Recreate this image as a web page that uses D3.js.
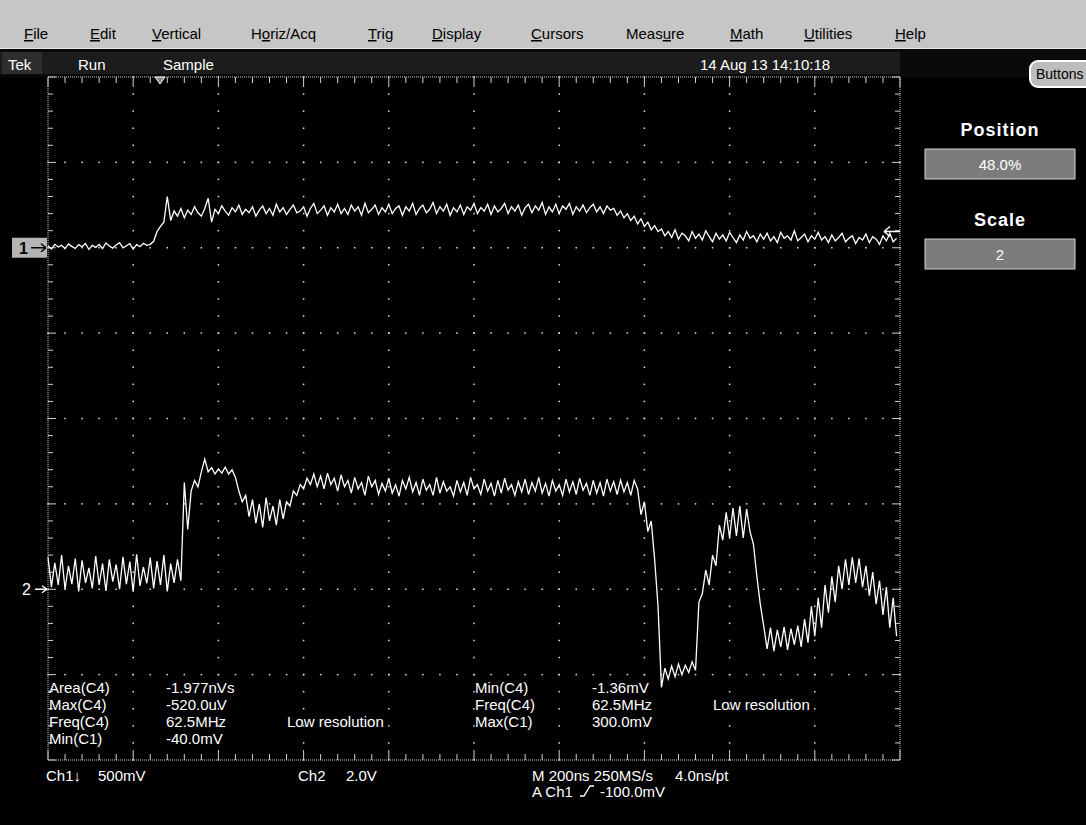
<!DOCTYPE html>
<html>
<head>
<meta charset="utf-8">
<script src="https://cdn.jsdelivr.net/npm/d3@7"></script>
<style>
  html, body { margin: 0; padding: 0; background: #000; }
  svg { display: block; }
  text { font-family: "Liberation Sans", Arial, sans-serif; }
</style>
</head>
<body>
<svg id="scope" width="1086" height="825"></svg>
<script>
// ---- acquisition data: one value every 8 ns across the 2 us record ----
const SAMPLE_NS = 8;

// Channel 1, millivolts
const ch1mV = [
  12, -8, 20, 4, 15, -6, 22, 8, -4, 18,
  6, 25, -10, 14, 2, 19, -5, 28, 10, -2,
  16, 30, 0, 12, 24, -8, 18, 6, 26, 14,
  20, 38, 95, 125, 150, 300, 160, 215, 185, 230,
  175, 220, 195, 240, 205, 185, 230, 290, 150, 225,
  200, 245, 215, 190, 235, 210, 250, 195, 225, 205,
  240, 185, 220, 245, 200, 230, 190, 255, 210, 235,
  195, 225, 250, 205, 215, 240, 185, 230, 260, 200,
  220, 245, 190, 235, 210, 255, 200, 230, 195, 250,
  215, 240, 190, 260, 205, 225, 250, 195, 235, 210,
  255, 200, 230, 245, 190, 240, 215, 260, 195, 230,
  250, 205, 225, 265, 200, 240, 215, 255, 190, 235,
  210, 250, 195, 240, 220, 260, 200, 235, 215, 255,
  195, 245, 210, 230, 260, 200, 240, 215, 250, 190,
  235, 255, 205, 245, 220, 265, 195, 240, 210, 255,
  200, 245, 225, 260, 195, 240, 215, 250, 205, 235,
  255, 210, 240, 200, 245, 220, 230, 190, 215, 175,
  200, 160, 185, 140, 170, 125, 150, 105, 130, 95,
  110, 70, 95, 60, 105, 50, 85, 70, 40, 95,
  55, 80, 45, 100, 65, 35, 85, 50, 75, 40,
  90, 60, 30, 75, 45, 95, 55, 70, 35, 80,
  50, 85, 40, 65, 30, 90, 55, 70, 45, 100,
  40, 60, 80, 35, 70, 50, 90, 45, 65, 30,
  75, 40, 60, 85, 35, 55, 70, 25, 60, 45,
  80, 30, 65, 50, 20, 70, 40, 85, 35, 55
];

// Channel 2, volts
const ch2V = [
  0.75, 0.05, 0.62, 0.10, 0.80, 0.00, 0.55, 0.12, 0.72, -0.05,
  0.68, 0.15, 0.50, 0.02, 0.78, 0.10, 0.60, -0.04, 0.70, 0.18,
  0.58, 0.00, 0.76, 0.12, 0.65, -0.06, 0.82, 0.08, 0.52, 0.14,
  0.74, 0.02, 0.66, 0.10, 0.80, -0.05, 0.60, 0.15, 0.70, 0.20,
  2.50, 1.40, 2.30, 2.55, 2.40, 2.75, 3.05, 2.75, 2.85, 2.70,
  2.82, 2.72, 2.86, 2.70, 2.80, 2.62, 2.30, 2.05, 2.20, 1.70,
  2.10, 1.55, 2.00, 1.45, 2.15, 1.60, 1.95, 1.50, 2.10, 1.65,
  2.05, 1.95, 2.30, 2.20, 2.45, 2.35, 2.60, 2.45, 2.70, 2.40,
  2.65, 2.35, 2.72, 2.45, 2.60, 2.30, 2.68, 2.40, 2.55, 2.25,
  2.62, 2.35, 2.50, 2.20, 2.65, 2.40, 2.55, 2.22, 2.48, 2.30,
  2.60, 2.25, 2.45, 2.18, 2.55, 2.35, 2.62, 2.28, 2.50, 2.20,
  2.58, 2.32, 2.45, 2.20, 2.62, 2.25, 2.52, 2.30, 2.40, 2.18,
  2.55, 2.28, 2.50, 2.20, 2.62, 2.35, 2.45, 2.22, 2.58, 2.30,
  2.48, 2.18, 2.55, 2.25, 2.60, 2.32, 2.45, 2.20, 2.52, 2.28,
  2.58, 2.22, 2.50, 2.30, 2.62, 2.25, 2.48, 2.18, 2.55, 2.30,
  2.45, 2.20, 2.58, 2.28, 2.52, 2.22, 2.60, 2.32, 2.48, 2.20,
  2.55, 2.25, 2.50, 2.18, 2.58, 2.30, 2.52, 2.22, 2.56, 2.28,
  2.50, 2.20, 2.55, 2.35, 1.75, 2.05, 1.35, 1.60, 0.70, -0.40,
  -2.30, -1.85, -2.10, -1.80, -2.05, -1.75, -2.00, -1.78, -1.95, -1.70,
  -1.90, -0.30, -0.10, 0.45, 0.10, 0.80, 0.55, 1.50, 1.15, 1.80,
  1.20, 1.90, 1.25, 1.95, 1.20, 1.88, 1.35, 1.05, 0.30, -0.35,
  -0.85, -1.40, -0.90, -1.45, -0.95, -1.35, -0.88, -1.42, -0.92, -1.30,
  -0.85, -1.35, -0.70, -1.25, -0.40, -1.10, -0.20, -0.90, 0.10, -0.55,
  0.30, -0.30, 0.55, 0.00, 0.70, 0.10, 0.75, 0.15, 0.72, 0.05,
  0.55, -0.15, 0.40, -0.35, 0.20, -0.60, 0.05, -0.90, -0.20, -1.10
];

// ---- screen text ----
const menuItems = [
  { label: "File", key: 0, x: 24 },
  { label: "Edit", key: 0, x: 90 },
  { label: "Vertical", key: 0, x: 152 },
  { label: "Horiz/Acq", key: 1, x: 251 },
  { label: "Trig", key: 0, x: 368 },
  { label: "Display", key: 0, x: 432 },
  { label: "Cursors", key: 0, x: 531 },
  { label: "Measure", key: 4, x: 626 },
  { label: "Math", key: 0, x: 730 },
  { label: "Utilities", key: 0, x: 804 },
  { label: "Help", key: 0, x: 895 }
];
const statusLabels = [
  { text: "Tek", x: 8 }, { text: "Run", x: 78 }, { text: "Sample", x: 163 },
  { text: "14 Aug 13 14:10:18", x: 700 }
];
const measLeft = [
  ["Area(C4)", "-1.977nVs", ""],
  ["Max(C4)", "-520.0uV", ""],
  ["Freq(C4)", "62.5MHz", "Low resolution"],
  ["Min(C1)", "-40.0mV", ""]
];
const measRight = [
  ["Min(C4)", "-1.36mV", ""],
  ["Freq(C4)", "62.5MHz", "Low resolution"],
  ["Max(C1)", "300.0mV", ""]
];
const scaleReadouts = [
  { text: "Ch1\u2193", x: 46 }, { text: "500mV", x: 98 },
  { text: "Ch2", x: 298 }, { text: "2.0V", x: 346 },
  { text: "M 200ns 250MS/s", x: 532 }, { text: "4.0ns/pt", x: 675 }
];
const sidePanel = [
  { title: "Position", value: "48.0%" },
  { title: "Scale", value: "2" }
];

// ---- geometry ----
const svg = d3.select("#scope");
const W = 1086, H = 825;
const gr = { left: 48, right: 900, top: 77, bottom: 760 };
const divX = d3.scaleLinear().domain([0, 10]).range([gr.left, gr.right]);
const divY = d3.scaleLinear().domain([4, -4]).range([gr.top, gr.bottom]);
const tx = d3.scaleLinear().domain([0, 2000]).range([gr.left, gr.right]);
// channel placement: ground level in divisions and volts per division
const ch1Y = d3.scaleLinear().domain([0, 500]).range([divY(2), divY(3)]);
const ch2Y = d3.scaleLinear().domain([0, 2]).range([divY(-2), divY(-1)]);

svg.append("rect").attr("width", W).attr("height", H).attr("fill", "#000");

// menu bar
svg.append("rect").attr("x", 0).attr("y", 0).attr("width", W).attr("height", 49).attr("fill", "#c6c6c6");
svg.append("line").attr("x1", 0).attr("x2", W).attr("y1", 48.5).attr("y2", 48.5).attr("stroke", "#e6e6e6");
menuItems.forEach(m => {
  const t = svg.append("text").attr("x", m.x).attr("y", 39).attr("font-size", 15).attr("fill", "#000");
  const a = m.label.slice(0, m.key), b = m.label[m.key], c = m.label.slice(m.key + 1);
  if (a) t.append("tspan").text(a);
  t.append("tspan").attr("text-decoration", "underline").text(b);
  if (c) t.append("tspan").text(c);
});

// status bar
svg.append("rect").attr("x", 0).attr("y", 49).attr("width", W).attr("height", 28).attr("fill", "#0a0a0a");
svg.append("rect").attr("x", 0).attr("y", 52).attr("width", 900).attr("height", 22).attr("fill", "#1c1c1c");
svg.append("rect").attr("x", 2).attr("y", 52).attr("width", 40).attr("height", 22).attr("fill", "#2e2e2e");
statusLabels.forEach(s => {
  svg.append("text").attr("x", s.x).attr("y", 70).attr("font-size", 15).attr("fill", "#fff").text(s.text);
});

// "Buttons" key
svg.append("rect").attr("x", 1030).attr("y", 61).attr("width", 70).attr("height", 26).attr("rx", 8)
  .attr("fill", "#bdbdbd").attr("stroke", "#fff").attr("stroke-width", 2);
svg.append("text").attr("x", 1036).attr("y", 79).attr("font-size", 14).attr("fill", "#000").text("Buttons");

// side panel
sidePanel.forEach((p, i) => {
  const y0 = 130 + i * 90;
  svg.append("text").attr("x", 1000).attr("y", y0 + 6).attr("text-anchor", "middle")
    .attr("font-size", 18).attr("font-weight", "bold").attr("letter-spacing", 1).attr("fill", "#fff").text(p.title);
  svg.append("rect").attr("x", 925).attr("y", y0 + 19).attr("width", 150).attr("height", 30)
    .attr("fill", "#7c7c7c").attr("stroke", "#d0d0d0").attr("stroke-width", 1);
  svg.append("text").attr("x", 1000).attr("y", y0 + 40).attr("text-anchor", "middle")
    .attr("font-size", 15).attr("fill", "#fff").text(p.value);
});

// graticule
const g = svg.append("g").attr("class", "graticule");
const minor = d3.range(0, 10.0001, 0.2);
const minorV = d3.range(-4, 4.0001, 0.2);
const dotColor = "#e0e0e0";
// dotted grid lines (one dot per minor division along each major line)
d3.range(1, 10).forEach(k => {
  minorV.forEach(v => {
    g.append("rect").attr("x", divX(k) - 0.75).attr("y", divY(v) - 0.75).attr("width", 1.5).attr("height", 1.5).attr("fill", dotColor);
  });
});
d3.range(-3, 4).forEach(j => {
  minor.forEach(u => {
    g.append("rect").attr("x", divX(u) - 0.75).attr("y", divY(j) - 0.75).attr("width", 1.5).attr("height", 1.5).attr("fill", dotColor);
  });
});
// frame
g.append("rect").attr("x", gr.left).attr("y", gr.top).attr("width", gr.right - gr.left).attr("height", gr.bottom - gr.top)
  .attr("fill", "none").attr("stroke", "#cfcfcf").attr("stroke-width", 1).attr("stroke-dasharray", "1,1");
// frame ticks
minor.forEach(u => {
  const major = Math.abs(u - Math.round(u)) < 1e-6;
  const len = major ? 10 : 6;
  g.append("line").attr("x1", divX(u)).attr("x2", divX(u)).attr("y1", gr.top).attr("y2", gr.top + len).attr("stroke", "#d0d0d0");
  g.append("line").attr("x1", divX(u)).attr("x2", divX(u)).attr("y1", gr.bottom).attr("y2", gr.bottom - len).attr("stroke", "#d0d0d0");
});
minorV.forEach(v => {
  const major = Math.abs(v - Math.round(v)) < 1e-6;
  const len = major ? 8 : 5;
  g.append("line").attr("x1", gr.left).attr("x2", gr.left + len).attr("y1", divY(v)).attr("y2", divY(v)).attr("stroke", "#d0d0d0");
  g.append("line").attr("x1", gr.right).attr("x2", gr.right - len).attr("y1", divY(v)).attr("y2", divY(v)).attr("stroke", "#d0d0d0");
});

// waveforms
const line1 = d3.line().x((d, i) => tx(i * SAMPLE_NS)).y(d => ch1Y(d));
const line2 = d3.line().x((d, i) => tx(i * SAMPLE_NS)).y(d => ch2Y(d));
svg.append("path").datum(ch1mV).attr("d", line1).attr("fill", "none").attr("stroke", "#fff").attr("stroke-width", 1.3);
svg.append("path").datum(ch2V).attr("d", line2).attr("fill", "none").attr("stroke", "#fff").attr("stroke-width", 1.3);

// trigger position marker
const trigX = tx(263);
svg.append("path").attr("d", `M${trigX - 5},${gr.top} L${trigX + 5},${gr.top} L${trigX},${gr.top + 7} Z`)
  .attr("fill", "#888").attr("stroke", "#fff").attr("stroke-width", 1);
// trigger level marker on the right edge
const lvlY = ch1Y(95);
svg.append("path").attr("d", `M${gr.right},${lvlY} L${gr.right - 16},${lvlY} M${gr.right - 16},${lvlY} l6,-5 M${gr.right - 16},${lvlY} l6,5`)
  .attr("stroke", "#fff").attr("stroke-width", 1.5).attr("fill", "none");

// channel ground markers
const g1 = ch1Y(0), g2 = ch2Y(0);
svg.append("rect").attr("x", 12).attr("y", g1 - 10).attr("width", 35).attr("height", 20).attr("fill", "#b4b4b4");
svg.append("text").attr("x", 19).attr("y", g1 + 6).attr("font-size", 16).attr("font-weight", "bold").attr("fill", "#000").text("1");
svg.append("path").attr("d", `M31,${g1} L46,${g1} M46,${g1} l-5,-4 M46,${g1} l-5,4`).attr("stroke", "#000").attr("stroke-width", 1.6).attr("fill", "none");
svg.append("text").attr("x", 22).attr("y", g2 + 6).attr("font-size", 16).attr("fill", "#fff").text("2");
svg.append("path").attr("d", `M35,${g2} L47,${g2} M47,${g2} l-5,-3.5 M47,${g2} l-5,3.5`).attr("stroke", "#fff").attr("stroke-width", 1.4).attr("fill", "none");

// measurement readouts
const rowY = [688, 705, 722, 739];
function drawMeas(rows, x0, x1, x2) {
  rows.forEach((r, i) => {
    [r[0], r[1], r[2]].forEach((s, k) => {
      if (!s) return;
      svg.append("text").attr("x", [x0, x1, x2][k]).attr("y", rowY[i] + 5)
        .attr("font-size", 15).attr("fill", "#fff").text(s);
    });
  });
}
drawMeas(measLeft, 49, 166, 287);
drawMeas(measRight, 475, 592, 713);

// scale readouts
scaleReadouts.forEach(s => {
  svg.append("text").attr("x", s.x).attr("y", 781).attr("font-size", 15).attr("fill", "#fff").text(s.text);
});
// trigger readout with slope symbol
svg.append("text").attr("x", 532).attr("y", 797).attr("font-size", 15).attr("fill", "#fff").text("A  Ch1");
svg.append("path").attr("d", "M580,796 L584,796 L590,786 L594,786").attr("stroke", "#fff").attr("stroke-width", 1.3).attr("fill", "none");
svg.append("text").attr("x", 600).attr("y", 797).attr("font-size", 15).attr("fill", "#fff").text("-100.0mV");
</script>
</body>
</html>
